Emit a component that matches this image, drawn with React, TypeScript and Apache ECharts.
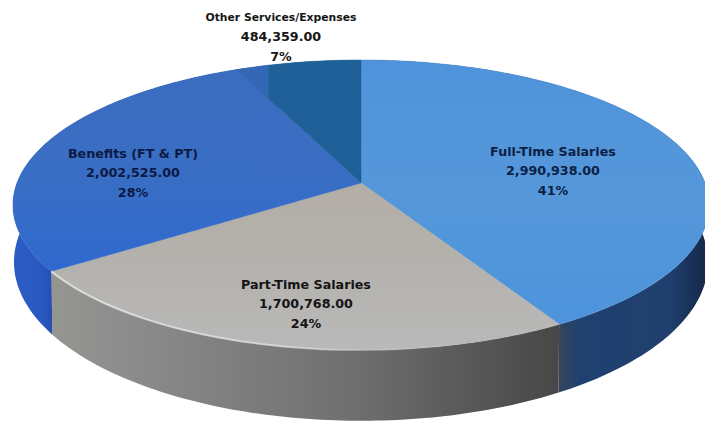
import React, { useEffect, useRef } from "react";
import * as echarts from "echarts";

// Budget breakdown, drawn clockwise from twelve o'clock.
const categories = ["Full-Time Salaries", "Part-Time Salaries", "Benefits (FT & PT)", "Other Services/Expenses"];
const amounts = [2990938, 1700768, 2002525, 484359];
const percentLabels = ["41%", "24%", "28%", "7%"];

const labelAnchors = [
  [553, 151],
  [306, 284],
  [133, 153],
  [281, 17],
];
const labelColors = ["#0c1f45", "#141414", "#0a1a45", "#151515"];
const nameFontSizes = [12.7, 12.7, 12.7, 10.8];
const LINE_STEP = 19.5;

const WIDTH = 705;
const HEIGHT = 426;

// Perspective projection of the unit disc onto the tilted pie faces.
const CX = 361;
const TOP_FACE = { cy: 183, rx: 344, ry: 141.7 };
const BOTTOM_FACE = { cy: 238, rx: 343, ry: 155 };
const TILT = 0.152;

function project(theta: number, r: number, face: { cy: number; rx: number; ry: number }) {
  const u = r * Math.sin(theta);
  const v = r * Math.cos(theta);
  const w = 1 + TILT * v;
  return [CX + (face.rx * u) / w, face.cy - (face.ry * v) / w];
}

function arcPoints(a0: number, a1: number, face: typeof TOP_FACE) {
  const steps = Math.max(8, Math.ceil(((a1 - a0) * 180) / Math.PI));
  const pts: number[][] = [];
  for (let i = 0; i <= steps; i++) pts.push(project(a0 + ((a1 - a0) * i) / steps, 1, face));
  return pts;
}

function horizontal(stops: [number, string][]) {
  return {
    type: "linear",
    x: 0,
    y: 0,
    x2: WIDTH,
    y2: 0,
    global: true,
    colorStops: stops.map(([offset, color]) => ({ offset, color })),
  };
}

function vertical(y0: number, y1: number, stops: [number, string][]) {
  return {
    type: "linear",
    x: 0,
    y: y0,
    x2: 0,
    y2: y1,
    global: true,
    colorStops: stops.map(([offset, color]) => ({ offset, color })),
  };
}

const topFills = [
  vertical(60, 330, [
    [0, "#4f93db"],
    [0.5, "#5597d9"],
    [1, "#4d94dc"],
  ]),
  vertical(190, 350, [
    [0, "#b3aea6"],
    [0.5, "#b4b2ae"],
    [1, "#b9b9b9"],
  ]),
  vertical(60, 280, [
    [0, "#3a6dbf"],
    [0.5, "#3a6ec4"],
    [1, "#2f69cf"],
  ]),
  horizontal([
    [0, "#3468b4"],
    [0.38, "#3468b4"],
    [0.382, "#1f6098"],
    [1, "#1c5e97"],
  ]),
];

const sideFills = [
  horizontal([
    [0.78, "#404850"],
    [0.82, "#1f416f"],
    [0.95, "#203f6e"],
    [1, "#16294a"],
  ]),
  horizontal([
    [0, "#9a9c90"],
    [0.15, "#8f8f8f"],
    [0.5, "#6f6f6f"],
    [0.8, "#464646"],
    [0.82, "#3f4348"],
  ]),
  horizontal([
    [0, "#2b5fc8"],
    [0.06, "#2a58c0"],
    [0.08, "#2449a8"],
    [1, "#2449a8"],
  ]),
  "#1c4f80",
];

const total = amounts.reduce((a, b) => a + b, 0);

function formatAmount(v: number) {
  return v.toLocaleString("en-US", { minimumFractionDigits: 2, maximumFractionDigits: 2 });
}

function labelLine(text: string, x: number, y: number, size: number, fill: string) {
  return {
    type: "text",
    z2: 5,
    style: {
      text,
      x,
      y,
      align: "center",
      verticalAlign: "middle",
      fill,
      font: `bold ${size}px "DejaVu Sans", sans-serif`,
    },
  };
}

function renderSlice(params: any, api: any) {
  const i = params.dataIndex;
  const value = api.value(0);
  let before = 0;
  for (let k = 0; k < i; k++) before += amounts[k];
  const a0 = (before / total) * Math.PI * 2;
  const a1 = ((before + value) / total) * Math.PI * 2;

  const topArc = arcPoints(a0, a1, TOP_FACE);
  const bottomArc = arcPoints(a0, a1, BOTTOM_FACE);
  const apex = project(0, 0, TOP_FACE);
  const [lx, ly] = labelAnchors[i];

  const children: any[] = [
    {
      type: "polygon",
      z2: 1,
      shape: { points: [...topArc, ...bottomArc.slice().reverse()] },
      style: { fill: sideFills[i] },
    },
    {
      type: "polygon",
      z2: 2,
      shape: { points: [apex, ...topArc] },
      style: { fill: topFills[i], stroke: topFills[i], lineWidth: 0.5 },
    },
    labelLine(categories[i], lx, ly, nameFontSizes[i], labelColors[i]),
    labelLine(formatAmount(value), lx, ly + LINE_STEP, 12.7, labelColors[i]),
    labelLine(percentLabels[i], lx, ly + LINE_STEP * 2, 12.7, labelColors[i]),
  ];

  // Pale rim catching the light along the front grey slice.
  if (i === 1) {
    children.push({
      type: "polyline",
      z2: 3,
      shape: { points: topArc },
      style: {
        fill: "none",
        lineWidth: 2,
        stroke: horizontal([
          [0.1, "rgba(225,225,225,0.9)"],
          [0.4, "rgba(225,225,225,0.7)"],
          [0.52, "rgba(225,225,225,0.25)"],
          [0.65, "rgba(225,225,225,0)"],
        ]),
      },
    });
  }

  return { type: "group", children };
}

export default function App() {
  const ref = useRef<HTMLDivElement>(null);

  useEffect(() => {
    document.body.style.margin = "0";
    const chart = echarts.init(ref.current!, undefined, { renderer: "svg" });
    chart.setOption({
      animation: false,
      backgroundColor: "#ffffff",
      series: [
        {
          type: "custom",
          coordinateSystem: "none",
          renderItem: renderSlice,
          data: amounts.map((value, i) => ({ name: categories[i], value: [value] })),
          encode: { value: 0 },
          silent: true,
        },
      ],
    });
    return () => chart.dispose();
  }, []);

  return <div ref={ref} style={{ width: WIDTH, height: HEIGHT }} />;
}
